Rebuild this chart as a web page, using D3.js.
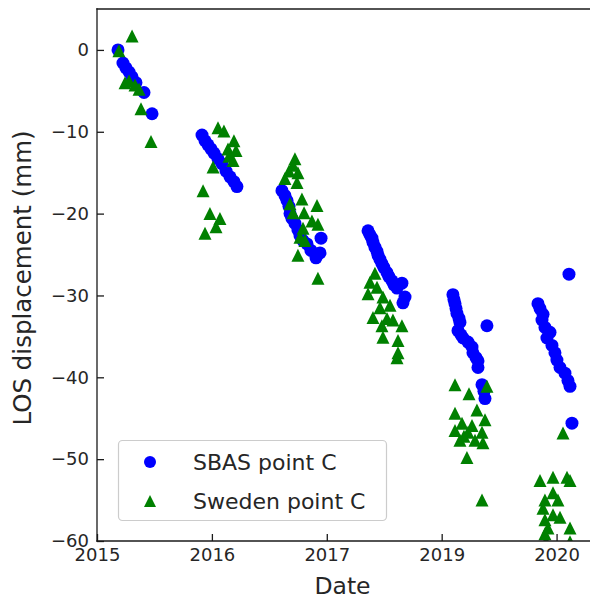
<!DOCTYPE html>
<html>
<head>
<meta charset="utf-8">
<script src="https://cdn.jsdelivr.net/npm/d3@7"></script>
<style>
  html, body { margin: 0; padding: 0; background: #fff; }
  svg { display: block; font-family: "DejaVu Sans", sans-serif; }
</style>
</head>
<body>
<svg id="chart" width="590" height="607"></svg>
<script>
// Axis ticks (position on the date axis) and the labels printed under them
const xTicks = [2015, 2016, 2017, 2018, 2019];
const xTickLabels = ["2015", "2016", "2017", "2019", "2020"];
const yTicks = [0, -10, -20, -30, -40, -50, -60];

// SBAS point C: date position, LOS displacement (mm)
const sbasDate = [
  2015.183, 2015.226, 2015.252, 2015.279, 2015.305, 2015.339, 2015.409, 2015.479,
  2015.914, 2015.940, 2015.966, 2015.992, 2016.018, 2016.053, 2016.088, 2016.123, 2016.158, 2016.192, 2016.218,
  2016.610, 2016.636, 2016.654, 2016.671, 2016.680, 2016.697, 2016.723, 2016.749, 2016.767, 2016.793, 2016.828, 2016.862, 2016.906, 2016.941, 2016.950,
  2017.359, 2017.376, 2017.393, 2017.402, 2017.419, 2017.437, 2017.446, 2017.463, 2017.480, 2017.498, 2017.524, 2017.541, 2017.567, 2017.585, 2017.611, 2017.654, 2017.681, 2017.663,
  2018.098, 2018.107, 2018.116, 2018.125, 2018.133, 2018.151, 2018.159, 2018.142, 2018.168, 2018.186, 2018.229, 2018.264, 2018.272, 2018.299, 2018.316, 2018.316, 2018.394, 2018.351, 2018.368, 2018.377,
  2019.108, 2018.838, 2018.856, 2018.882, 2018.873, 2018.899, 2018.943, 2018.916, 2018.960, 2018.986, 2019.003, 2019.030, 2019.073, 2019.099, 2019.117, 2019.134
];
const sbasLos = [
  0.0, -1.6, -2.2, -2.7, -3.3, -4.0, -5.2, -7.8,
  -10.4, -11.1, -11.6, -12.1, -12.6, -13.3, -13.9, -14.8, -15.5, -16.1, -16.7,
  -17.2, -17.8, -18.4, -19.1, -20.0, -20.6, -21.2, -22.0, -22.7, -23.3, -23.7, -24.5, -25.4, -24.8, -23.0,
  -22.1, -22.6, -23.0, -23.5, -24.1, -24.6, -25.1, -25.6, -26.1, -26.6, -27.2, -27.7, -28.2, -28.7, -29.1, -28.5, -30.2, -30.9,
  -29.9, -30.5, -31.0, -31.6, -32.2, -32.8, -33.3, -34.3, -34.8, -35.2, -35.7, -36.3, -37.0, -37.6, -38.0, -38.8, -33.7, -40.9, -41.7, -42.6,
  -27.4, -31.0, -31.6, -32.3, -33.0, -33.9, -34.5, -35.2, -36.1, -37.0, -37.9, -38.8, -39.5, -40.4, -41.1, -45.6
];

// Sweden point C: date position, LOS displacement (mm)
const swedenDate = [
  2015.305, 2015.191, 2015.244, 2015.279, 2015.331, 2015.366, 2015.383, 2015.470,
  2016.053, 2016.105, 2016.192, 2016.210, 2016.149, 2016.184, 2016.140, 2016.010, 2015.923, 2015.983, 2016.070, 2016.036, 2015.940,
  2016.723, 2016.706, 2016.749, 2016.636, 2016.741, 2016.671, 2016.784, 2016.915, 2016.680, 2016.706, 2016.802, 2016.871, 2016.923, 2016.793, 2016.767, 2016.810, 2016.749, 2016.923,
  2017.376, 2017.359, 2017.419, 2017.437, 2017.489, 2017.463, 2017.402, 2017.524, 2017.480, 2017.576, 2017.654, 2017.489, 2017.620, 2017.620, 2017.611, 2017.550,
  2018.116, 2018.238, 2018.394, 2018.116, 2018.307, 2018.377, 2018.177, 2018.116, 2018.229, 2018.351, 2018.159, 2018.290, 2018.359, 2018.220, 2018.351, 2018.264, 2018.194,
  2019.056, 2018.856, 2018.969, 2019.091, 2019.117, 2018.969, 2018.899, 2019.012, 2018.882, 2018.969, 2019.030, 2018.899, 2018.925, 2019.117, 2018.899, 2018.908, 2019.117
];
const swedenLos = [
  1.7, -0.1, -4.0, -3.8, -4.3, -4.8, -7.2, -11.2,
  -9.5, -9.9, -11.1, -12.3, -13.0, -13.5, -12.1, -14.3, -17.2, -20.0, -20.6, -21.6, -22.4,
  -13.3, -14.1, -15.0, -15.7, -16.2, -14.8, -18.2, -19.0, -18.8, -19.9, -19.9, -20.9, -21.3, -21.8, -22.9, -23.3, -25.1, -27.9,
  -28.4, -29.8, -27.3, -29.0, -30.2, -31.5, -32.7, -32.8, -33.7, -33.0, -33.7, -35.1, -35.5, -37.0, -37.6, -31.2,
  -40.9, -42.0, -41.1, -44.4, -44.0, -45.2, -45.6, -46.5, -46.7, -46.7, -47.7, -47.7, -48.0, -49.8, -55.0, -45.9, -47.2,
  -46.8, -52.6, -52.2, -52.2, -52.6, -54.1, -55.0, -55.0, -56.0, -56.8, -57.1, -57.4, -58.4, -58.4, -59.1, -60.1, -60.1
];

const seriesNames = ["SBAS point C", "Sweden point C"];
const seriesColors = ["#0000ff", "#008000"];

const svg = d3.select("#chart");
const plot = { left: 97, top: 9, right: 600, bottom: 541 };
const markerSize = 13;
const axisColor = "#1a1a1a";
const textColor = "#262626";

const x = d3.scaleLinear().domain([2015, 2019.378]).range([plot.left, plot.right]);
const y = d3.scaleLinear().domain([-60, 5]).range([plot.bottom, plot.top]);

svg.append("defs").append("clipPath").attr("id", "plot-clip")
  .append("rect")
  .attr("x", plot.left).attr("y", plot.top)
  .attr("width", plot.right - plot.left).attr("height", plot.bottom - plot.top);

// Triangle pointing up, matplotlib "^" style: width == height == size
function trianglePath(s) {
  const h = s / 2;
  return `M0,${-h}L${-h},${h}L${h},${h}Z`;
}

const marks = svg.append("g").attr("clip-path", "url(#plot-clip)");

marks.append("g").selectAll("circle")
  .data(d3.range(sbasDate.length))
  .join("circle")
  .attr("cx", i => x(sbasDate[i]))
  .attr("cy", i => y(sbasLos[i]))
  .attr("r", markerSize / 2)
  .attr("fill", seriesColors[0]);

marks.append("g").selectAll("path")
  .data(d3.range(swedenDate.length))
  .join("path")
  .attr("transform", i => `translate(${x(swedenDate[i])},${y(swedenLos[i])})`)
  .attr("d", trianglePath(markerSize))
  .attr("fill", seriesColors[1]);

// Axes: ticks point inward
const xAxis = d3.axisBottom(x)
  .tickValues(xTicks)
  .tickFormat((d, i) => xTickLabels[i])
  .tickSizeInner(-7).tickSizeOuter(0).tickPadding(7);
const yAxis = d3.axisLeft(y)
  .tickValues(yTicks)
  .tickFormat(d3.format("d"))
  .tickSizeInner(-7).tickSizeOuter(0).tickPadding(8);

function styleAxis(g) {
  g.select(".domain").remove();
  g.selectAll(".tick line").attr("stroke", axisColor).attr("stroke-width", 1.3);
  g.selectAll(".tick text").attr("fill", textColor).attr("font-size", 18)
    .attr("font-family", "DejaVu Sans, sans-serif");
}

svg.append("g").attr("transform", `translate(0,${plot.bottom})`).call(xAxis).call(styleAxis);
svg.append("g").attr("transform", `translate(${plot.left},0)`).call(yAxis).call(styleAxis);

// Spines: left, bottom, top
const spines = svg.append("g").attr("stroke", axisColor).attr("stroke-width", 1.3)
  .attr("fill", "none").attr("stroke-linecap", "square");
spines.append("line").attr("x1", plot.left).attr("x2", plot.left).attr("y1", plot.top).attr("y2", plot.bottom);
spines.append("line").attr("x1", plot.left).attr("x2", plot.right).attr("y1", plot.bottom).attr("y2", plot.bottom);
spines.append("line").attr("x1", plot.left).attr("x2", plot.right).attr("y1", plot.top).attr("y2", plot.top);

// Axis titles
svg.append("text")
  .attr("x", (plot.left + 590) / 2 - 1).attr("y", 594)
  .attr("text-anchor", "middle")
  .attr("font-size", 23.5).attr("fill", textColor)
  .text("Date");
svg.append("text")
  .attr("transform", `translate(31,${(plot.top + plot.bottom) / 2 + 3}) rotate(-90)`)
  .attr("text-anchor", "middle")
  .attr("font-size", 24.5).attr("fill", textColor)
  .text("LOS displacement (mm)");

// Legend
const legend = svg.append("g");
legend.append("rect")
  .attr("x", 118.5).attr("y", 440.5).attr("width", 268).attr("height", 80)
  .attr("rx", 4).attr("fill", "#fff").attr("fill-opacity", 0.8)
  .attr("stroke", "#cccccc").attr("stroke-width", 1.2);
const legendRows = [462, 501];
legend.append("circle").attr("cx", 150).attr("cy", legendRows[0]).attr("r", markerSize / 2 - 0.5)
  .attr("fill", seriesColors[0]);
legend.append("path").attr("transform", `translate(150,${legendRows[1]})`)
  .attr("d", trianglePath(markerSize - 1)).attr("fill", seriesColors[1]);
legend.selectAll("text.label")
  .data(seriesNames)
  .join("text")
  .attr("class", "label")
  .attr("x", 193).attr("y", (d, i) => legendRows[i] + 8)
  .attr("font-size", 22).attr("fill", textColor)
  .text(d => d);
</script>
</body>
</html>
